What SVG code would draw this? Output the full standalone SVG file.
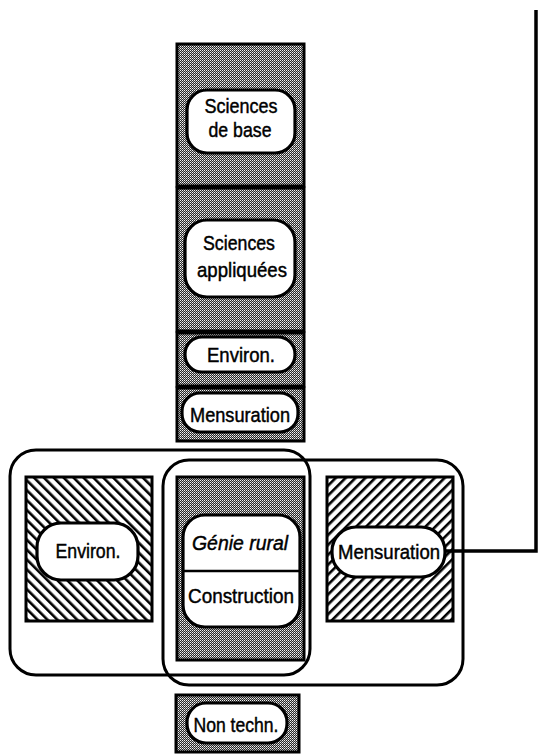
<svg xmlns="http://www.w3.org/2000/svg" width="539" height="755" viewBox="0 0 539 755">
  <defs>
    <!-- dense stipple used for the curriculum column -->
    <pattern id="stipple" width="2" height="2" patternUnits="userSpaceOnUse">
      <rect width="2" height="2" fill="#2a2a2a"/>
      <rect x="0" y="0" width="1" height="1" fill="#f4f4f4"/>
      <rect x="1" y="1" width="1" height="1" fill="#b0b0b0"/>
    </pattern>
    <!-- back-slash hatching -->
    <pattern id="hatchBack" width="7" height="7" patternUnits="userSpaceOnUse" patternTransform="rotate(-45)">
      <rect width="7" height="7" fill="#fff"/>
      <rect x="0" y="0" width="2.6" height="7" fill="#000"/>
    </pattern>
    <!-- forward-slash hatching -->
    <pattern id="hatchFwd" width="7" height="7" patternUnits="userSpaceOnUse" patternTransform="rotate(45)">
      <rect width="7" height="7" fill="#fff"/>
      <rect x="0" y="0" width="2.6" height="7" fill="#000"/>
    </pattern>
  </defs>
  <style>
    .seg { fill: url(#stipple); stroke: #000; stroke-width: 3; }
    .hb { fill: url(#hatchBack); stroke: #000; stroke-width: 3; }
    .hf { fill: url(#hatchFwd); stroke: #000; stroke-width: 3; }
    .pill { fill: #fff; stroke: #000; stroke-width: 3.2; }
    .frame { fill: none; stroke: #000; stroke-width: 3; }
    .lbl { font-family: "Liberation Sans", Arial, Helvetica, sans-serif; font-size: 20.5px; fill: #000; stroke: #000; stroke-width: 0.45; text-anchor: middle; }
    .it { font-style: italic; }
    .wire { fill: none; stroke: #000; stroke-width: 3.5; }
  </style>
  <rect width="539" height="755" fill="#fff"/>

  <!-- vertical column of subject areas -->
  <g id="sciences-base">
    <rect class="seg" x="177" y="44" width="127" height="142"/>
    <rect class="pill" x="187" y="90" width="108" height="63" rx="20"/>
    <text class="lbl" x="241" y="113" textLength="73" lengthAdjust="spacingAndGlyphs">Sciences</text>
    <text class="lbl" x="240" y="137" textLength="63" lengthAdjust="spacingAndGlyphs">de base</text>
  </g>
  <g id="sciences-appliquees">
    <rect class="seg" x="177" y="188" width="127" height="143"/>
    <rect class="pill" x="185" y="220" width="110" height="77" rx="22"/>
    <text class="lbl" x="239" y="250" textLength="72" lengthAdjust="spacingAndGlyphs">Sciences</text>
    <text class="lbl" x="242" y="277" textLength="90" lengthAdjust="spacingAndGlyphs">appliquées</text>
  </g>
  <g id="environ-col">
    <rect class="seg" x="177" y="333" width="127" height="53"/>
    <rect class="pill" x="185" y="337" width="110" height="35" rx="17"/>
    <text class="lbl" x="241" y="362" textLength="68" lengthAdjust="spacingAndGlyphs">Environ.</text>
  </g>
  <g id="mensuration-col">
    <rect class="seg" x="177" y="388" width="127" height="53"/>
    <rect class="pill" x="182" y="393" width="116" height="39" rx="18"/>
    <text class="lbl" x="240" y="422" textLength="100" lengthAdjust="spacingAndGlyphs">Mensuration</text>
  </g>

  <!-- grouping frames -->
  <g id="frame-left">
    <rect class="frame" x="10" y="450" width="300" height="225" rx="26"/>
  </g>
  <g id="frame-right">
    <rect class="frame" x="163" y="460" width="300" height="225" rx="26"/>
  </g>

  <!-- specialisation blocks -->
  <g id="environ-spec">
    <rect class="hb" x="26" y="477" width="126" height="144"/>
    <rect class="pill" x="37" y="523" width="101" height="57" rx="24"/>
    <text class="lbl" x="88" y="558" textLength="65" lengthAdjust="spacingAndGlyphs">Environ.</text>
  </g>
  <g id="genie-rural">
    <rect class="seg" x="177" y="477" width="127" height="183"/>
    <rect class="pill" x="183" y="515" width="117" height="112" rx="22"/>
    <line x1="183" y1="571" x2="300" y2="571" stroke="#000" stroke-width="2.5"/>
    <text class="lbl it" x="240" y="550" textLength="96" lengthAdjust="spacingAndGlyphs">Génie rural</text>
    <text class="lbl" x="241" y="603" textLength="106" lengthAdjust="spacingAndGlyphs">Construction</text>
  </g>
  <g id="mensuration-spec">
    <rect class="hf" x="327" y="477" width="126" height="144"/>
    <rect class="pill" x="332" y="527" width="113" height="50" rx="24"/>
    <text class="lbl" x="389" y="559" textLength="102" lengthAdjust="spacingAndGlyphs">Mensuration</text>
  </g>

  <g id="non-techn">
    <rect class="seg" x="176" y="695" width="123" height="57"/>
    <rect class="pill" x="187" y="703" width="100" height="40" rx="19"/>
    <text class="lbl" x="236" y="732" textLength="85" lengthAdjust="spacingAndGlyphs">Non techn.</text>
  </g>

  <!-- connectors -->
  <g id="connectors">
    <path class="wire" d="M445,551 H536 V10"/>
  </g>
</svg>
